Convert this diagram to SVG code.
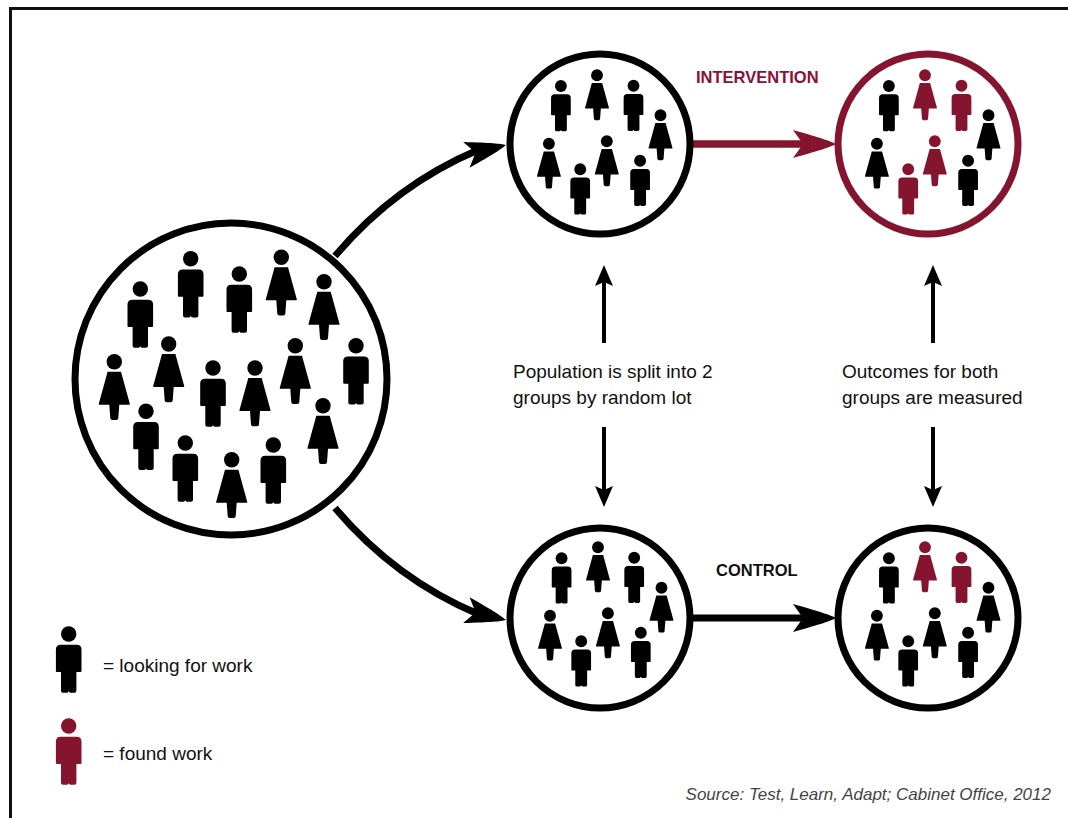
<svg xmlns="http://www.w3.org/2000/svg" width="1068" height="818" viewBox="0 0 1068 818">
<style>
text{font-family:"Liberation Sans",Arial,sans-serif}
.lab{font-size:19px;fill:#111}
.tag{font-size:16.5px;font-weight:700}
.ring{fill:#fff;stroke:#000;stroke-width:7}
.ringr{fill:#fff;stroke:#85152f;stroke-width:7}
.k{fill:#000}.r{fill:#85152f}
.conn{fill:none;stroke:#000;stroke-width:7}
.thin{fill:none;stroke:#000;stroke-width:4}
</style>
<defs>
<g id="man"><circle cx="0" cy="0" r="7.7"/><path d="M-8,10.7H8Q12.8,10.7 12.8,15.5V37Q12.8,38 11.8,38H7.7V56.7Q7.7,58.7 5.7,58.7H2Q.5,58.7 .3,57.5H-.3Q-.5,58.7-2,58.7H-5.7Q-7.7,58.7-7.7,56.7V38H-11.8Q-12.8,38-12.8,37V15.5Q-12.8,10.7-8,10.7Z"/></g>
<g id="woman"><circle cx="0" cy="0" r="7.7"/><path d="M-6.7,10H6.7L15.5,42Q15.8,43 15,43H5L4,56.5Q3.8,58.3 2,58.3H-2Q-3.8,58.3-4,56.5L-5,43H-15Q-15.8,43-15.5,42Z"/></g>
<path id="head" d="M0,0C-6,-3-14,-6-43,-14L-33,0L-43,14C-14,6-6,3 0,0Z"/>
<path id="tri" d="M0,0L8,-17L0,-13L-8,-17Z"/>
</defs>
<rect width="1068" height="818" fill="#fff"/>
<path d="M10.5,818V8.5H1068" fill="none" stroke="#111" stroke-width="3"/>
<g id="connectors">
<path class="conn" d="M335,256Q395,185 478,150"/>
<use href="#head" transform="translate(506,145) rotate(-14) scale(.95)"/>
<path class="conn" d="M335,508Q395,579 478,614"/>
<use href="#head" transform="translate(506,620) rotate(14) scale(.95)"/>
<path d="M693,144H805" fill="none" stroke="#85152f" stroke-width="7.5"/>
<use href="#head" class="r" transform="translate(836,144)"/>
<path class="conn" d="M693,618H805"/>
<use href="#head" transform="translate(836,618)"/>
<path class="thin" d="M604,343V280"/><path d="M604,265L613,286L604,282L595,286Z"/>
<path class="thin" d="M604,427V490"/><path d="M604,507L613,486L604,490L595,486Z"/>
<path class="thin" d="M933,343V280"/><path d="M933,265L942,286L933,282L924,286Z"/>
<path class="thin" d="M933,427V490"/><path d="M933,507L942,486L933,490L924,486Z"/>
</g>
<g id="population">
<circle class="ring" cx="231" cy="379" r="156"/>
<g class="k">
<use href="#man" x="140.3" y="289"/><use href="#man" x="190.7" y="258.7"/><use href="#man" x="239.3" y="274"/><use href="#man" x="356" y="345.7"/><use href="#man" x="213" y="368"/><use href="#man" x="146" y="411.3"/><use href="#man" x="185.3" y="443"/><use href="#man" x="273.3" y="445"/>
<use href="#woman" x="281.3" y="257.3"/><use href="#woman" x="324" y="281.7"/><use href="#woman" x="114.3" y="361.7"/><use href="#woman" x="168.7" y="344"/><use href="#woman" x="295.3" y="345.7"/><use href="#woman" x="255" y="368"/><use href="#woman" x="323" y="405.7"/><use href="#woman" x="231.7" y="459.7"/>
</g>
</g>
<g id="group-intervention">
<circle class="ring" cx="600" cy="144" r="90"/>
<g class="k">
<use href="#man" transform="translate(560.9,86) scale(.77)"/><use href="#man" transform="translate(633.5,85.7) scale(.77)"/><use href="#man" transform="translate(640.1,160.7) scale(.77)"/><use href="#man" transform="translate(580.2,169.3) scale(.77)"/>
<use href="#woman" transform="translate(597,75.3) scale(.77)"/><use href="#woman" transform="translate(660.5,115.3) scale(.77)"/><use href="#woman" transform="translate(548.9,143.7) scale(.77)"/><use href="#woman" transform="translate(606.8,141.3) scale(.77)"/>
</g>
</g>
<g id="outcome-intervention">
<circle class="ringr" cx="928" cy="144" r="90"/>
<g class="k">
<use href="#man" transform="translate(888.9,86) scale(.77)"/><use href="#man" transform="translate(968.1,160.7) scale(.77)"/>
<use href="#woman" transform="translate(988.5,115.3) scale(.77)"/><use href="#woman" transform="translate(876.9,143.7) scale(.77)"/>
</g>
<g class="r">
<use href="#man" transform="translate(961.5,85.7) scale(.77)"/><use href="#man" transform="translate(908.2,169.3) scale(.77)"/>
<use href="#woman" transform="translate(925,75.3) scale(.77)"/><use href="#woman" transform="translate(934.8,141.3) scale(.77)"/>
</g>
</g>
<g id="group-control">
<circle class="ring" cx="600" cy="618" r="90"/>
<g class="k">
<use href="#man" transform="translate(561.6,558.3) scale(.77)"/><use href="#man" transform="translate(634.2,557.7) scale(.77)"/><use href="#man" transform="translate(640.8,632.7) scale(.77)"/><use href="#man" transform="translate(581.2,641.3) scale(.77)"/>
<use href="#woman" transform="translate(598,547.3) scale(.77)"/><use href="#woman" transform="translate(661.5,587.7) scale(.77)"/><use href="#woman" transform="translate(550,615.7) scale(.77)"/><use href="#woman" transform="translate(607.9,613.3) scale(.77)"/>
</g>
</g>
<g id="outcome-control">
<circle class="ring" cx="928" cy="618" r="90"/>
<g class="k">
<use href="#man" transform="translate(888.9,558.3) scale(.77)"/><use href="#man" transform="translate(968.1,632.7) scale(.77)"/><use href="#man" transform="translate(908.2,641.3) scale(.77)"/>
<use href="#woman" transform="translate(988.5,587.7) scale(.77)"/><use href="#woman" transform="translate(876.9,615.7) scale(.77)"/><use href="#woman" transform="translate(934.8,613.3) scale(.77)"/>
</g>
<g class="r">
<use href="#man" transform="translate(961.5,557.7) scale(.77)"/>
<use href="#woman" transform="translate(925,547.3) scale(.77)"/>
</g>
</g>
<g id="label-intervention"><text class="tag" x="696" y="83" fill="#8a0f3a">INTERVENTION</text></g>
<g id="label-control"><text class="tag" x="716" y="576" fill="#111">CONTROL</text></g>
<g id="note-split"><text class="lab" x="513" y="378">Population is split into 2</text><text class="lab" x="513" y="404">groups by random lot</text></g>
<g id="note-outcomes"><text class="lab" x="842" y="378">Outcomes for both</text><text class="lab" x="842" y="404">groups are measured</text></g>
<g id="legend-looking"><use href="#man" class="k" x="68.7" y="634"/><text class="lab" x="103" y="672">= looking for work</text></g>
<g id="legend-found"><use href="#man" class="r" x="68.7" y="726"/><text class="lab" x="103" y="760">= found work</text></g>
<g id="source"><text x="1051" y="800" text-anchor="end" font-size="17" font-style="italic" fill="#444">Source: Test, Learn, Adapt; Cabinet Office, 2012</text></g>
</svg>
